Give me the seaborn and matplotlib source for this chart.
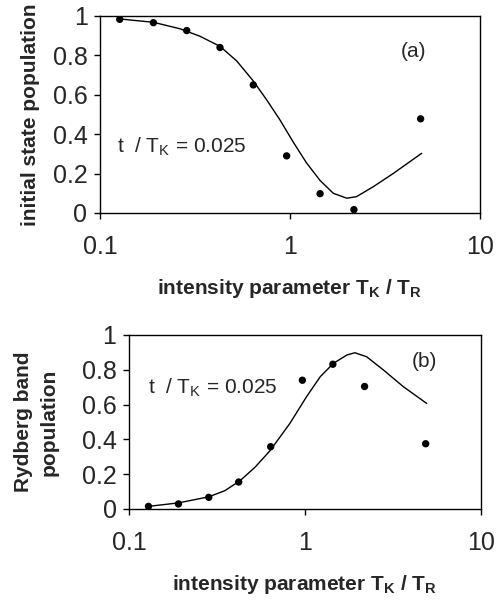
import numpy as np
import pandas as pd
import matplotlib
matplotlib.use("Agg")
import matplotlib.pyplot as plt
import seaborn as sns

# (a) initial state population - measured points
x_pts_a = [0.127, 0.191, 0.286, 0.428, 0.641, 0.96, 1.44, 2.17, 4.87]
y_pts_a = [0.983, 0.966, 0.926, 0.84, 0.65, 0.29, 0.098, 0.017, 0.478]
# (a) theory curve
x_fit_a = [0.127, 0.191, 0.264, 0.336, 0.428, 0.524, 0.641, 0.754, 0.886, 1.04, 1.22,
           1.44, 1.69, 1.99, 2.24, 2.75, 3.5, 4.93]
y_fit_a = [0.985, 0.968, 0.935, 0.897, 0.846, 0.772, 0.67, 0.574, 0.472, 0.36, 0.255,
           0.165, 0.100, 0.075, 0.083, 0.134, 0.201, 0.303]

# (b) Rydberg band population - measured points
x_pts_b = [0.129, 0.191, 0.284, 0.42, 0.638, 0.966, 1.44, 2.18, 4.85]
y_pts_b = [0.015, 0.029, 0.067, 0.155, 0.358, 0.74, 0.832, 0.704, 0.375]
# (b) theory curve
x_fit_b = [0.129, 0.191, 0.284, 0.35, 0.427, 0.52, 0.633, 0.822, 1.02, 1.22, 1.45, 1.73,
           1.92, 2.24, 2.79, 3.62, 4.91]
y_fit_b = [0.015, 0.035, 0.07, 0.105, 0.162, 0.24, 0.335, 0.493, 0.645, 0.76, 0.837, 0.885,
           0.898, 0.875, 0.799, 0.703, 0.607]

sns.set_style("ticks")
plt.rcParams['font.family'] = ['Liberation Sans', 'DejaVu Sans']
plt.rcParams['mathtext.default'] = 'regular'

fig = plt.figure(figsize=(5, 6.01), dpi=100)
ax1 = fig.add_axes([0.2, 0.6456, 0.76, 0.3278])
ax2 = fig.add_axes([0.258, 0.1531, 0.704, 0.2895])

xlab = r'intensity parameter T$_{K}$ / T$_{R}$'

def style(ax, ylabel, letter, lx, ly, tx, ty):
    ax.set_xscale('log')
    ax.set_xlim(0.1, 10)
    ax.set_ylim(0, 1)
    ax.set_yticks([0, 0.2, 0.4, 0.6, 0.8, 1])
    ax.set_yticklabels(['0', '0.2', '0.4', '0.6', '0.8', '1'])
    ax.set_xticks([0.1, 1, 10])
    ax.set_xticklabels(['0.1', '1', '10'])
    ax.xaxis.set_minor_locator(matplotlib.ticker.NullLocator())
    ax.tick_params(axis='both', labelsize=18, direction='out', length=4, width=1, color='black', pad=5)
    ax.tick_params(axis='x', pad=12)
    for s in ax.spines.values():
        s.set_color('black')
        s.set_linewidth(1)
    ax.set_xlabel(xlab, fontsize=15, fontweight='bold', labelpad=13)
    ax.set_ylabel(ylabel, fontsize=15, fontweight='bold', linespacing=1.45)
    ax.text(lx, ly, letter, fontsize=15, ha='center', va='center')
    ax.text(tx, ty, r't  / T$_{K}$ = 0.025', fontsize=15, ha='left', va='center')

df_fa = pd.DataFrame({'x': x_fit_a, 'y': y_fit_a})
df_pa = pd.DataFrame({'x': x_pts_a, 'y': y_pts_a})
sns.lineplot(data=df_fa, x='x', y='y', ax=ax1, color='black', lw=1.0, sort=False)
sns.scatterplot(data=df_pa, x='x', y='y', ax=ax1, color='black', s=28, edgecolor='none', zorder=3)
style(ax1, 'initial state population', '(a)', 4.44, 0.82, 0.123, 0.335)
ax1.yaxis.set_label_coords(-0.158, 0.5)

df_fb = pd.DataFrame({'x': x_fit_b, 'y': y_fit_b})
df_pb = pd.DataFrame({'x': x_pts_b, 'y': y_pts_b})
sns.lineplot(data=df_fb, x='x', y='y', ax=ax2, color='black', lw=1.0, sort=False)
sns.scatterplot(data=df_pb, x='x', y='y', ax=ax2, color='black', s=28, edgecolor='none', zorder=3)
style(ax2, 'Rydberg band\npopulation', '(b)', 4.8, 0.845, 0.128, 0.695)
ax2.yaxis.set_label_coords(-0.2, 0.5)

fig.savefig('out.png', dpi=100)
